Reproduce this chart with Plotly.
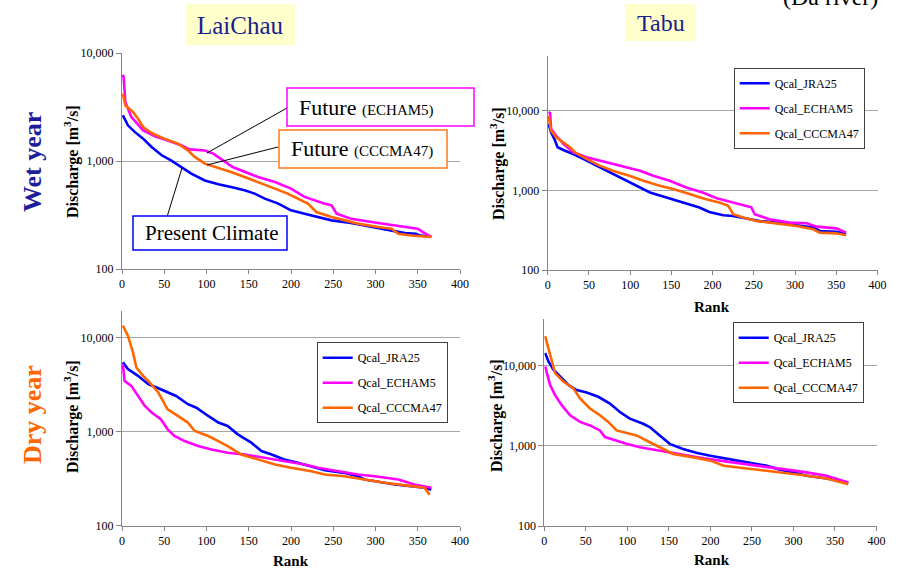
import plotly.graph_objects as go

# ---------------- data (rank vs discharge) ----------------
series_names = ["Qcal_JRA25", "Qcal_ECHAM5", "Qcal_CCCMA47"]
series_colors = ["#0000ff", "#ff00ff", "#ff6600"]

# LaiChau - wet year
tl_jra_rank = [1, 7, 15, 25, 35, 47, 58, 70, 82, 98, 114, 129, 145, 157, 169, 185, 200, 216, 232, 248, 271, 295, 319, 335, 348, 352, 366]
tl_jra_q = [2650, 2140, 1860, 1610, 1350, 1130, 1015, 880, 765, 660, 608, 574, 535, 499, 448, 403, 349, 325, 303, 282, 267, 245, 228, 215, 212, 205, 198]
tl_ech_rank = [1, 2, 4, 11, 25, 39, 54, 70, 80, 98, 108, 120, 131, 161, 181, 200, 216, 240, 248, 254, 271, 303, 323, 350, 356, 366]
tl_ech_q = [6300, 5900, 3500, 2560, 1920, 1690, 1550, 1400, 1280, 1250, 1170, 1000, 880, 710, 640, 555, 465, 403, 389, 325, 292, 267, 254, 236, 220, 198]
tl_ccc_rank = [1, 4, 13, 19, 25, 35, 50, 66, 78, 86, 98, 114, 129, 145, 161, 181, 196, 208, 220, 230, 248, 264, 279, 303, 319, 327, 342, 366]
tl_ccc_q = [4200, 3270, 2850, 2460, 2065, 1815, 1610, 1450, 1255, 1090, 945, 867, 790, 711, 640, 555, 499, 448, 403, 337, 303, 282, 263, 245, 236, 212, 204, 198]

# Tabu - wet year
tr_jra_rank = [1, 4, 8, 12, 21, 31, 43, 59, 75, 91, 107, 124, 144, 164, 184, 196, 213, 225, 241, 257, 277, 302, 322, 330, 350, 362]
tr_jra_q = [6890, 5410, 4450, 3490, 3160, 2870, 2490, 2050, 1690, 1390, 1146, 944, 816, 705, 610, 537, 488, 478, 447, 414, 394, 365, 341, 309, 303, 281]
tr_ech_rank = [1, 3, 4, 10, 19, 31, 47, 63, 79, 95, 112, 128, 148, 168, 188, 205, 225, 247, 251, 269, 293, 314, 326, 350, 362]
tr_ech_q = [9660, 9400, 5960, 4900, 3850, 3020, 2610, 2370, 2150, 1950, 1770, 1530, 1325, 1090, 944, 800, 700, 615, 502, 435, 394, 387, 351, 334, 295]
tr_ccc_rank = [1, 4, 10, 19, 27, 33, 47, 63, 79, 99, 116, 136, 152, 172, 192, 208, 219, 225, 237, 253, 277, 302, 322, 330, 350, 362]
tr_ccc_q = [8770, 5680, 4680, 4040, 3490, 3020, 2490, 2050, 1770, 1530, 1325, 1146, 1040, 900, 776, 705, 640, 502, 456, 414, 387, 358, 325, 295, 289, 273]

# LaiChau - dry year
bl_jra_rank = [1, 7, 19, 31, 41, 54, 64, 78, 88, 102, 114, 125, 137, 153, 165, 177, 192, 208, 224, 240, 263, 279, 287, 307, 323, 342, 358, 366]
bl_jra_q = [5460, 4630, 3930, 3200, 2950, 2610, 2400, 1960, 1800, 1470, 1250, 1150, 937, 764, 622, 573, 507, 467, 430, 390, 365, 336, 310, 290, 274, 263, 253, 242]
bl_ech_rank = [1, 3, 11, 19, 27, 35, 46, 54, 62, 74, 90, 106, 125, 145, 161, 181, 200, 216, 232, 256, 279, 299, 327, 346, 366]
bl_ech_q = [5240, 3470, 3070, 2400, 1880, 1600, 1355, 1060, 900, 795, 703, 647, 597, 573, 541, 507, 479, 448, 413, 380, 351, 336, 310, 274, 253]
bl_ccc_rank = [1, 7, 13, 17, 25, 31, 43, 54, 66, 78, 86, 102, 114, 125, 141, 161, 181, 200, 224, 240, 263, 287, 311, 338, 358, 364]
bl_ccc_q = [13430, 10500, 6970, 4820, 3930, 3470, 2610, 1730, 1470, 1250, 1017, 899, 795, 703, 573, 507, 448, 413, 380, 351, 336, 310, 286, 267, 253, 214]

# Tabu - dry year
br_jra_rank = [1, 5, 11, 19, 29, 39, 51, 65, 79, 91, 103, 119, 127, 139, 151, 167, 184, 200, 220, 244, 268, 284, 300, 316, 340, 366]
br_jra_q = [14450, 11340, 8910, 7340, 5760, 4980, 4650, 4100, 3380, 2650, 2190, 1890, 1720, 1350, 1060, 916, 816, 755, 686, 622, 565, 503, 466, 423, 391, 348]
br_ech_rank = [1, 7, 13, 21, 31, 43, 55, 67, 73, 85, 99, 115, 131, 151, 172, 192, 220, 252, 284, 312, 340, 366]
br_ech_q = [9810, 5760, 4300, 3220, 2410, 1990, 1800, 1560, 1290, 1170, 1060, 962, 899, 832, 755, 700, 636, 576, 523, 474, 423, 348]
br_ccc_rank = [1, 7, 13, 23, 35, 43, 55, 67, 77, 87, 111, 127, 143, 155, 180, 200, 216, 244, 276, 312, 340, 366]
br_ccc_q = [23400, 13770, 8090, 6340, 5220, 3910, 2930, 2410, 1990, 1560, 1350, 1110, 916, 793, 719, 654, 565, 523, 474, 431, 391, 332]

y_tickvals = [100, 1000, 10000]
y_ticktext = ["100", "1,000", "10,000"]
x_tickvals = [0, 50, 100, 150, 200, 250, 300, 350, 400]

# ---------------- layout helpers ----------------
W, H = 902, 570
SERIF = "Liberation Serif, Times New Roman, serif"
NAVY = "#1c1c8f"


def fx(px):
    return px / W


def fy(py):
    return 1 - py / H


fig = go.Figure()

panels = [
    ("x", "y", None, [(tl_jra_rank, tl_jra_q), (tl_ech_rank, tl_ech_q), (tl_ccc_rank, tl_ccc_q)]),
    ("x2", "y2", "legend", [(tr_jra_rank, tr_jra_q), (tr_ech_rank, tr_ech_q), (tr_ccc_rank, tr_ccc_q)]),
    ("x3", "y3", "legend2", [(bl_jra_rank, bl_jra_q), (bl_ech_rank, bl_ech_q), (bl_ccc_rank, bl_ccc_q)]),
    ("x4", "y4", "legend3", [(br_jra_rank, br_jra_q), (br_ech_rank, br_ech_q), (br_ccc_rank, br_ccc_q)]),
]

for xa, ya, leg, data in panels:
    for i, (rk, q) in enumerate(data):
        kw = dict(
            x=rk, y=q, mode="lines", name=series_names[i],
            line=dict(color=series_colors[i], width=2.6),
            xaxis=xa, yaxis=ya, hoverinfo="x+y",
        )
        if leg is None:
            kw["showlegend"] = False
        else:
            kw["legend"] = leg
            kw["legendgroup"] = leg + str(i)
        fig.add_trace(go.Scatter(**kw))

# axis geometry in pixels: (x0, x1, ytop, ybottom, log top)
geom = {
    "1": (122, 460, 53, 269, 4.0),
    "2": (547.7, 877.5, 56, 270, 4.69),
    "3": (122, 460, 310.7, 525.7, 4.287),
    "4": (544.3, 876.5, 319.3, 526, 4.58),
}

axis_common = dict(
    showline=True, linecolor="#868686", linewidth=1,
    ticks="outside", tickcolor="#868686",
    tickfont=dict(family=SERIF, size=12, color="black"),
    zeroline=False,
)

for k, (x0, x1, yt, yb, top) in geom.items():
    sfx = "" if k == "1" else k
    fig.layout["xaxis" + sfx] = dict(
        domain=[fx(x0), fx(x1)], range=[0, 400], tickvals=x_tickvals,
        showgrid=False, anchor="y" + sfx, ticklen=4, **axis_common,
    )
    fig.layout["yaxis" + sfx] = dict(
        domain=[fy(yb), fy(yt)], type="log", range=[2, top],
        tickvals=y_tickvals, ticktext=y_ticktext,
        showgrid=True, gridcolor="#a6a6a6", gridwidth=1,
        anchor="x" + sfx, ticklen=5, **axis_common,
    )

legend_common = dict(
    font=dict(family=SERIF, size=12, color="black"),
    bgcolor="white", bordercolor="#404040", borderwidth=1,
    xanchor="left", yanchor="top", tracegroupgap=6, itemwidth=30,
)
fig.update_layout(
    legend=dict(x=fx(733.7), y=fy(67.7), **legend_common),
    legend2=dict(x=fx(316.7), y=fy(342.3), **legend_common),
    legend3=dict(x=fx(732.7), y=fy(322.3), **legend_common),
)

shapes = []
annotations = []


def label(text, px, py, size, color="black", angle=0, xanchor="center", yanchor="middle"):
    annotations.append(dict(text=text, x=fx(px), y=fy(py), xref="paper", yref="paper",
                            xanchor=xanchor, yanchor=yanchor, textangle=angle,
                            showarrow=False, font=dict(family=SERIF, size=size, color=color)))


# title boxes
for (x0, x1, y0, y1) in [(186, 295, 4, 45), (625, 696, 4, 41)]:
    shapes.append(dict(type="rect", xref="paper", yref="paper",
                       x0=fx(x0), x1=fx(x1), y0=fy(y1), y1=fy(y0),
                       fillcolor="#ffffcc", line=dict(width=0), layer="below"))
label("LaiChau", 240.5, 25, 25, NAVY)
label("Tabu", 661, 23, 24, NAVY)
label("(Da river)", 830, 12, 24, yanchor="bottom")

# row labels
label("<b>Wet year</b>", 32, 162, 26, "#1e1e9a", angle=-90)
label("<b>Dry year</b>", 32, 415, 26, "#ff6600", angle=-90)

# axis titles
for (px, py) in [(71, 162), (497, 164), (71, 417), (495, 416)]:
    label("<b>Discharge [m<sup>3</sup>/s]</b>", px, py, 16, angle=-90)
for (px, py) in [(712, 306.5), (291, 560.5), (712, 560)]:
    label("<b>Rank</b>", px, py, 15)

# callouts in the LaiChau wet-year panel
callouts = [
    ((287, 474, 88, 126), "#ff00ff", "Future <span style='font-size:15px'>(ECHAM5)</span>", 297, 107, 22,
     (287, 108, 207, 153)),
    ((279, 447, 130, 168), "#ff7a1a", "Future <span style='font-size:15px'>(CCCMA47)</span>", 289, 149, 22,
     (278, 147, 207, 165)),
    ((133, 287, 216, 250), "#0000ff", "Present Climate", 143, 233, 21,
     (167, 217, 182, 168)),
]
for (bx0, bx1, by0, by1), col, txt, tx, ty, fs, (lx0, ly0, lx1, ly1) in callouts:
    shapes.append(dict(type="line", xref="paper", yref="paper",
                       x0=fx(lx0), y0=fy(ly0), x1=fx(lx1), y1=fy(ly1),
                       line=dict(color="black", width=1)))
    shapes.append(dict(type="rect", xref="paper", yref="paper",
                       x0=fx(bx0), x1=fx(bx1), y0=fy(by1), y1=fy(by0),
                       fillcolor="white", line=dict(color=col, width=1.5)))
    label(txt, tx, ty, fs, xanchor="left")

fig.update_layout(
    width=W, height=H,
    margin=dict(l=0, r=0, t=0, b=0, autoexpand=False),
    paper_bgcolor="white", plot_bgcolor="white",
    shapes=shapes, annotations=annotations,
    font=dict(family=SERIF, color="black"),
)

fig.write_html(
    "out.html",
    config={"displayModeBar": False},
    post_script="document.body.style.margin='0px';document.body.style.overflow='hidden';",
)
